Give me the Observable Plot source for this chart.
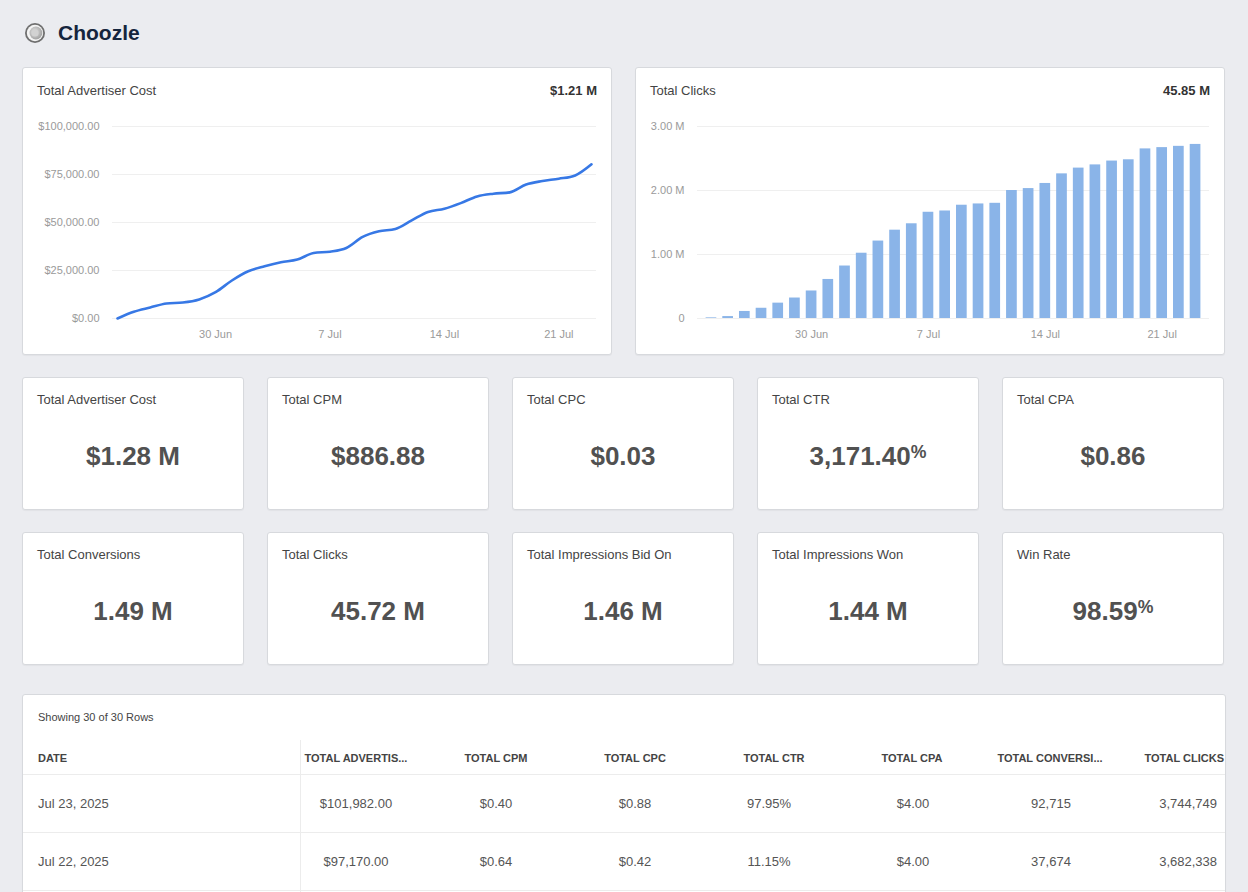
<!DOCTYPE html>
<html><head><meta charset="utf-8">
<script src="https://cdn.jsdelivr.net/npm/d3@7"></script>
<script src="https://cdn.jsdelivr.net/npm/@observablehq/plot@0.6"></script>
<style>
html,body{margin:0;padding:0}
body{background:#ebecf0;font-family:"Liberation Sans",Arial,Helvetica,sans-serif;width:1248px;height:892px;overflow:hidden;position:relative}
.abs{position:absolute}
.card{position:absolute;background:#fff;border:1px solid #d7d9dd;border-radius:3px;box-sizing:border-box;box-shadow:0 1px 1px rgba(0,0,0,0.04)}
.ctitle{position:absolute;font-size:13px;color:#444;line-height:15px;white-space:nowrap}
.cval{position:absolute;font-size:13px;color:#333;font-weight:bold;line-height:15px;white-space:nowrap;text-align:right}
.klabel{position:absolute;left:14px;top:14px;font-size:13px;color:#444;line-height:15px;white-space:nowrap}
.kvalue{position:absolute;left:0;right:0;top:63px;height:30px;text-align:center;font-size:26px;font-weight:bold;color:#515151;line-height:30px;white-space:nowrap}
.kvalue .pct{font-size:0.68em;position:relative;top:-0.42em;line-height:0}
.th{position:absolute;font-size:11px;font-weight:bold;color:#444;line-height:13px;white-space:nowrap}
.td{position:absolute;font-size:13px;color:#555;line-height:15px;white-space:nowrap}
.hline{position:absolute;height:1px;background:#ececec}
.vline{position:absolute;width:1px;background:#ececec}
</style>
</head><body>
<script>
// ---------- data ----------
const dates = ["2025-06-24","2025-06-25","2025-06-26","2025-06-27","2025-06-28","2025-06-29","2025-06-30",
  "2025-07-01","2025-07-02","2025-07-03","2025-07-04","2025-07-05","2025-07-06","2025-07-07",
  "2025-07-08","2025-07-09","2025-07-10","2025-07-11","2025-07-12","2025-07-13","2025-07-14",
  "2025-07-15","2025-07-16","2025-07-17","2025-07-18","2025-07-19","2025-07-20","2025-07-21",
  "2025-07-22","2025-07-23"];
const advertiserCost = [0, 3500, 5700, 7800, 8300, 9900, 13700, 19800, 24600, 27200,
  29300, 30700, 34100, 34800, 36700, 42500, 45400, 46600, 51100, 55500,
  57200, 60100, 63600, 65000, 65700, 69800, 71600, 72800, 74500, 80300];
const clicks = [10000, 30000, 110000, 160000, 240000, 320000, 430000, 610000, 820000, 1020000,
  1210000, 1380000, 1480000, 1660000, 1680000, 1770000, 1790000, 1800000, 2000000, 2030000,
  2110000, 2260000, 2350000, 2400000, 2460000, 2480000, 2650000, 2670000, 2690000, 2720000];
const dateTickValues = ["2025-06-30","2025-07-07","2025-07-14","2025-07-21"];
const dateTickLabels = ["30 Jun","7 Jul","14 Jul","21 Jul"];
const costTicks = [0, 25000, 50000, 75000, 100000];
const clickTicks = [0, 1000000, 2000000, 3000000];

const chartTitles = ["Total Advertiser Cost", "Total Clicks"];
const chartTotals = ["$1.21 M", "45.85 M"];

const kpiLabels = ["Total Advertiser Cost","Total CPM","Total CPC","Total CTR","Total CPA",
  "Total Conversions","Total Clicks","Total Impressions Bid On","Total Impressions Won","Win Rate"];
const kpiValues = ["$1.28 M","$886.88","$0.03","3,171.40%","$0.86",
  "1.49 M","45.72 M","1.46 M","1.44 M","98.59%"];

const tableCaption = "Showing 30 of 30 Rows";
const tableColumns = ["DATE","TOTAL ADVERTIS...","TOTAL CPM","TOTAL CPC","TOTAL CTR","TOTAL CPA","TOTAL CONVERSI...","TOTAL CLICKS"];
const tableRows = [
  ["Jul 23, 2025","$101,982.00","$0.40","$0.88","97.95%","$4.00","92,715","3,744,749"],
  ["Jul 22, 2025","$97,170.00","$0.64","$0.42","11.15%","$4.00","37,674","3,682,338"]
];

// ---------- layout helpers ----------
const FONT = '"Liberation Sans",Arial,Helvetica,sans-serif';
function el(tag, cls, style, html) {
  const e = document.createElement(tag);
  if (cls) e.className = cls;
  if (style) Object.assign(e.style, style);
  if (html !== undefined) e.innerHTML = html;
  return e;
}
const body = document.body;

// header
const logo = el("div","abs",{left:"24px",top:"22px",width:"22px",height:"22px"},
  `<svg width="22" height="22" viewBox="0 0 22 22">
    <defs><radialGradient id="lg" cx="40%" cy="40%" r="70%"><stop offset="0" stop-color="#e2e2e2"/><stop offset="1" stop-color="#9a9a9a"/></radialGradient></defs>
    <circle cx="11" cy="11" r="10" fill="#6f6f6f"/>
    <circle cx="11" cy="11" r="8.2" fill="#f4f4f4"/>
    <circle cx="11.9" cy="11" r="6.4" fill="url(#lg)"/>
    <circle cx="11" cy="11" r="3.6" fill="#d2d2d2"/>
  </svg>`);
body.appendChild(logo);
body.appendChild(el("div","abs",{left:"58px",top:"21px",fontSize:"21px",fontWeight:"bold",color:"#15253d",lineHeight:"24px"},"Choozle"));

// chart cards
const chartLefts = [22, 635];
chartLefts.forEach((L, i) => {
  const c = el("div","card",{left:L+"px",top:"67px",width:"590px",height:"288px"});
  c.appendChild(el("div","ctitle",{left:"14px",top:"15px"},chartTitles[i]));
  c.appendChild(el("div","cval",{right:"14px",top:"15px"},chartTotals[i]));
  body.appendChild(c);
});

const labelOf = d => {
  const k = dateTickValues.indexOf(d);
  return k >= 0 ? dateTickLabels[k] : "";
};
const toUTC = s => new Date(s + "T00:00:00Z");

// line chart
const costData = dates.map((d, i) => ({date: toUTC(d), value: advertiserCost[i]}));
const lineChart = Plot.plot({
  width: 589, height: 250,
  marginTop: 26, marginBottom: 32, marginLeft: 95, marginRight: 20,
  style: {fontFamily: FONT, fontSize: "11px", color: "#9a9a9a", background: "transparent", overflow: "visible"},
  x: {type: "utc", domain: [costData[0].date, costData[costData.length - 1].date],
      ticks: dateTickValues.map(toUTC),
      tickFormat: d => labelOf(d.toISOString().slice(0, 10)),
      tickSize: 0, tickPadding: 12, label: null},
  y: {domain: [0, 100000], ticks: costTicks, tickFormat: d => "$" + d3.format(",.2f")(d),
      tickSize: 0, tickPadding: 18, label: null},
  marks: [
    Plot.ruleY(costTicks, {stroke: "#efefef", insetLeft: -5, insetRight: -5}),
    Plot.lineY(costData, {x: "date", y: "value", stroke: "#3778e5", strokeWidth: 2.6, curve: "monotone-x"})
  ]
});
Object.assign(lineChart.style, {position: "absolute", left: "22px", top: "100px"});
body.appendChild(lineChart);

// bar chart
const clickData = dates.map((d, i) => ({date: d, value: clicks[i]}));
const barChart = Plot.plot({
  width: 589, height: 250,
  marginTop: 26, marginBottom: 32, marginLeft: 67.6, marginRight: 20.6,
  style: {fontFamily: FONT, fontSize: "11px", color: "#9a9a9a", background: "transparent", overflow: "visible"},
  x: {type: "band", domain: dates, padding: 0, round: false,
      tickFormat: d => labelOf(d), tickSize: 0, tickPadding: 12, label: null},
  y: {domain: [0, 3000000], ticks: clickTicks,
      tickFormat: d => d === 0 ? "0" : (d / 1e6).toFixed(2) + " M",
      tickSize: 0, tickPadding: 18.6, label: null},
  marks: [
    Plot.ruleY(clickTicks, {stroke: "#efefef", insetLeft: -5.6, insetRight: -5.6}),
    Plot.barY(clickData, {x: "date", y: "value", fill: "#8ab4e8", insetLeft: 3, insetRight: 3})
  ]
});
Object.assign(barChart.style, {position: "absolute", left: "635px", top: "100px"});
body.appendChild(barChart);

// KPI cards
const kpiLefts = [22, 267, 512, 757, 1002];
const kpiTops = [377, 532];
kpiLabels.forEach((lab, i) => {
  const r = Math.floor(i / 5), col = i % 5;
  const c = el("div","card",{left:kpiLefts[col]+"px",top:kpiTops[r]+"px",width:"222px",height:"133px"});
  c.appendChild(el("div","klabel",null,lab));
  const v = kpiValues[i];
  const html = v.endsWith("%") ? v.slice(0, -1) + '<span class="pct">%</span>' : v;
  c.appendChild(el("div","kvalue",null,html));
  body.appendChild(c);
});

// table card
const t = el("div","card",{left:"22px",top:"694px",width:"1204px",height:"240px"});
body.appendChild(t);
body.appendChild(el("div","abs",{left:"38px",top:"711px",fontSize:"11px",color:"#444",lineHeight:"13px"},tableCaption));
// separators
body.appendChild(el("div","vline",{left:"300px",top:"740px",height:"160px"}));
[774, 832, 890].forEach(y => body.appendChild(el("div","hline",{left:"23px",width:"1202px",top:y+"px"})));
const headCenters = [null, 356, 496, 635, 774, 912, 1050, null];
const cellCenters = [null, 356, 496, 635, 769, 913, 1051, null];
tableColumns.forEach((h, j) => {
  const s = {top: "752px"};
  if (j === 0) s.left = "38px";
  else if (j === tableColumns.length - 1) s.right = (1248 - 1224) + "px";
  else { s.left = (headCenters[j] - 100) + "px"; s.width = "200px"; s.textAlign = "center"; }
  body.appendChild(el("div","th",s,h));
});
const rowTops = [796, 854];
tableRows.forEach((row, r) => {
  row.forEach((v, j) => {
    const s = {top: rowTops[r] + "px"};
    if (j === 0) s.left = "38px";
    else if (j === row.length - 1) s.right = (1248 - 1217) + "px";
    else { s.left = (cellCenters[j] - 100) + "px"; s.width = "200px"; s.textAlign = "center"; }
    body.appendChild(el("div","td",s,v));
  });
});
</script>
</body></html>
